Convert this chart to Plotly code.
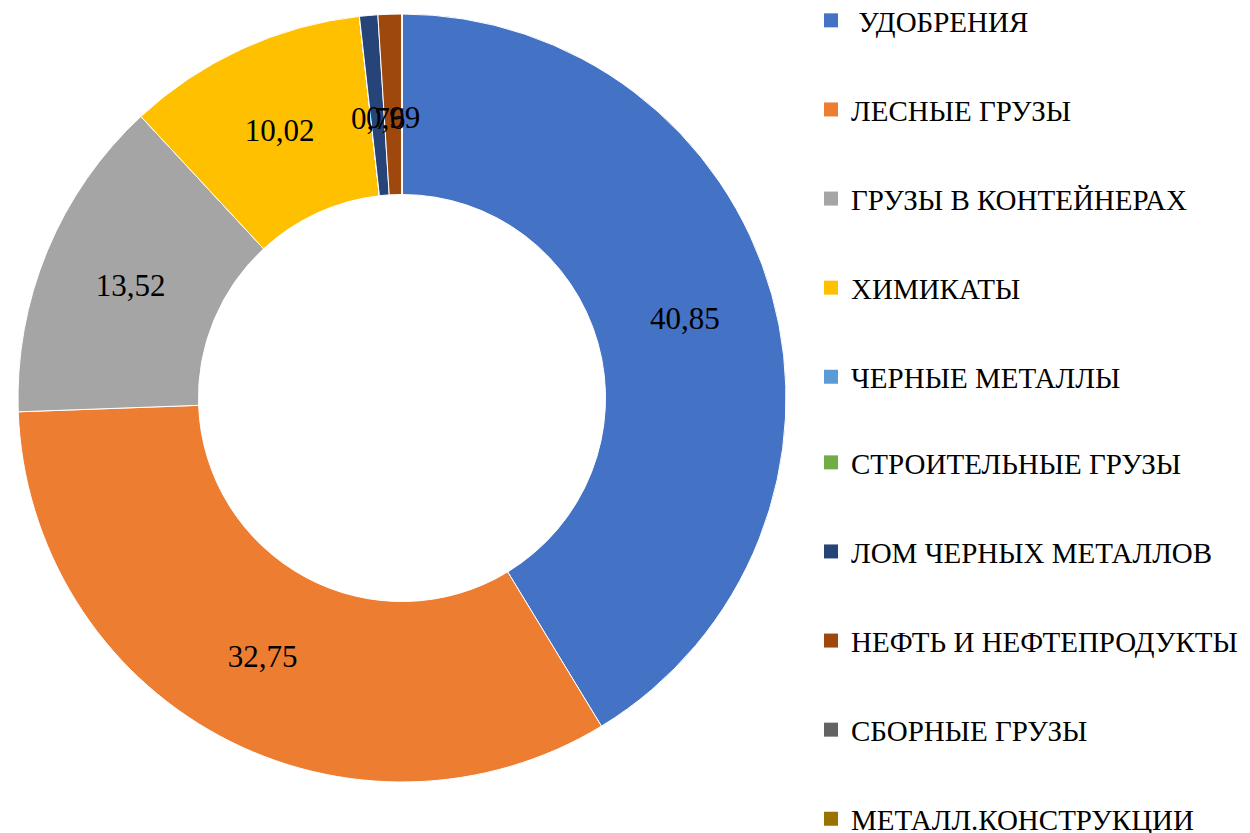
import math
import plotly.graph_objects as go

categories = [" УДОБРЕНИЯ", "ЛЕСНЫЕ ГРУЗЫ", "ГРУЗЫ В КОНТЕЙНЕРАХ", "ХИМИКАТЫ",
              "ЧЕРНЫЕ МЕТАЛЛЫ", "СТРОИТЕЛЬНЫЕ ГРУЗЫ", "ЛОМ ЧЕРНЫХ МЕТАЛЛОВ",
              "НЕФТЬ И НЕФТЕПРОДУКТЫ", "СБОРНЫЕ ГРУЗЫ", "МЕТАЛЛ.КОНСТРУКЦИИ"]
values = [40.85, 32.75, 13.52, 10.02, 0, 0, 0.76, 0.99, 0, 0]
colors = ["#4472C4", "#ED7D31", "#A5A5A5", "#FFC000", "#5B9BD5", "#70AD47",
          "#264478", "#9E480E", "#636363", "#997300"]

W, H = 1250, 833
OFF = 8  # page body margin
CX, CY, R_OUT = 402 - OFF, 398 - OFF, 384
HOLE = 0.53
SMALL = 2.0


def fmt(v):
    return ("%.2f" % v).replace(".", ",")


labels_txt = [fmt(v) if v >= SMALL else "" for v in values]

fig = go.Figure()
fig.add_trace(go.Pie(
    labels=categories, values=values, text=labels_txt, textinfo="text",
    sort=False, direction="clockwise", rotation=0, hole=HOLE,
    marker=dict(colors=colors, line=dict(color="white", width=1)),
    textposition="inside", insidetextorientation="horizontal",
    textfont=dict(family="Liberation Serif", size=31, color="black"),
    domain=dict(x=[(CX - R_OUT) / W, (CX + R_OUT) / W],
                y=[(H - CY - R_OUT) / H, (H - CY + R_OUT) / H]),
    showlegend=False, hoverinfo="label+value",
))

# labels of the thin slices, placed at the middle of their ring segment
total = sum(values)
cum = 0.0
r_mid = R_OUT * 0.73
for v in values:
    if 0 < v < SMALL:
        ang = 2 * math.pi * (cum + v / 2) / total
        px = CX + r_mid * math.sin(ang)
        py = CY - r_mid * math.cos(ang)
        fig.add_annotation(x=px / W, y=1 - py / H, xref="paper", yref="paper",
                           xanchor="center", yanchor="middle",
                           text=fmt(v), showarrow=False,
                           font=dict(family="Liberation Serif", size=31, color="black"))
    cum += v

for i, (c, col) in enumerate(zip(categories, colors)):
    fig.add_trace(go.Scatter(
        x=[None], y=[None], mode="markers", name=c,
        marker=dict(symbol="square", size=14, color=col),
        legendgroup=f"g{i}", showlegend=True,
        legend="legend" if i < 5 else "legend2",
    ))

STEP = 88.4
TOP = -13
leg_common = dict(xanchor="left", yanchor="top",
                  font=dict(family="Liberation Serif", size=29, color="black"),
                  tracegroupgap=STEP - 40, traceorder="grouped",
                  bgcolor="rgba(0,0,0,0)")

fig.update_layout(
    width=W, height=H,
    margin=dict(l=0, r=0, t=0, b=0, autoexpand=False),
    paper_bgcolor="white", plot_bgcolor="white",
    xaxis=dict(visible=False), yaxis=dict(visible=False),
    uniformtext=dict(minsize=31, mode="show"),
    legend=dict(x=803 / W, y=1 - TOP / H, **leg_common),
    legend2=dict(x=803 / W, y=1 - (TOP + 5 * STEP) / H, **leg_common),
)

fig.write_html("out.html")
